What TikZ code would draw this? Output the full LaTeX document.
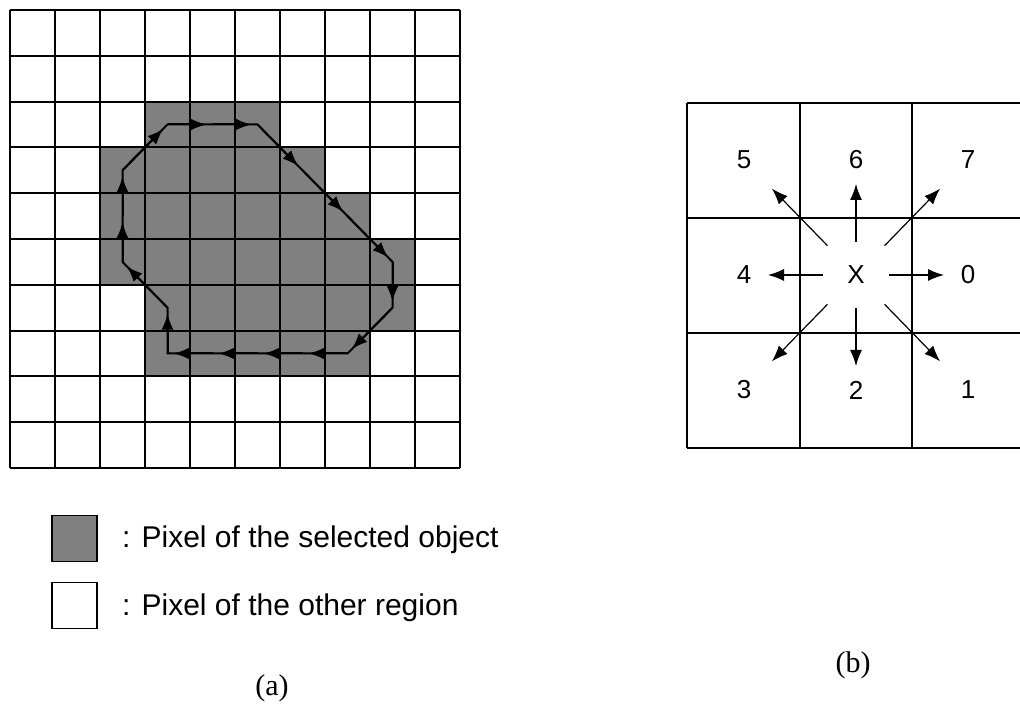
\documentclass[tikz,border=0pt]{standalone}
\usepackage{fontspec}
\setmainfont{Liberation Serif}
\newfontfamily\arialfont{Liberation Sans}
\usetikzlibrary{arrows.meta}
\definecolor{speck}{gray}{0.5}

\begin{document}
\begin{tikzpicture}[x=0.5pt,y=-0.5pt,
  selpix/.style={fill=speck},
  gridline/.style={line width=1pt},
  chain/.style={line width=1pt},
  chainhead/.style={-{Latex[length=8pt,width=6pt]},line width=1pt,shorten >=3pt},
  dirlabel/.style={font=\arialfont\fontsize{13}{15}\selectfont,inner sep=1pt},
  dirarrow/.style={-{Latex[length=8pt,width=6pt]},line width=0.6pt},
  keybox/.style={draw,line width=0.8pt,minimum width=22.5pt,minimum height=23pt,inner sep=0pt},
  keytext/.style={font=\arialfont\fontsize{15}{18}\selectfont,anchor=base west,inner sep=0pt},
  caption/.style={font=\fontsize{15}{18}\selectfont}]
  \useasboundingbox (0,0) rectangle (1020,704);

  % (a) object on the pixel grid and its boundary chain
  \begin{scope}[shift={(10,10)},x=22.5pt,y=-22.9pt]
    \foreach \r/\a/\b in {2/3/5,3/2/6,4/2/7,5/2/8,6/3/8,7/3/7}
      \fill[selpix] (\a,\r) rectangle (\b+1,\r+1);
    \foreach \k in {0,...,10}{
      \draw[gridline] (\k,0) -- (\k,10);
      \draw[gridline] (0,\k) -- (10,\k);
    }
    \foreach \c/\r [count=\i] in {3/2,4/2,5/2,6/3,7/4,8/5,8/6,7/7,6/7,5/7,4/7,3/7,3/6,2/5,2/4,2/3}
      \coordinate (p\i) at (\c+0.5,\r+0.5);
    \draw[chain] (p1) \foreach \i in {2,...,16}{ -- (p\i)} -- cycle;
    \foreach \i [remember=\i as \j (initially 16)] in {1,...,16}
      \draw[chainhead] (p\j) -- (p\i);
  \end{scope}

  \node[keybox,selpix] (keysel) at (74.5,538.5) {};
  \node[keybox] (keyoth) at (74.5,605.5) {};
  \node[keytext] (txtsel) at ([xshift=12pt,yshift=-4.5pt]keysel.east) {: Pixel of the selected object};
  \node[keytext] (txtoth) at ([xshift=12pt,yshift=-5pt]keyoth.east) {: Pixel of the other region};
  \node[caption] (capa) at (272,688) {(a)};

  % (b) the eight chain directions
  \foreach \y in {103,218,333,448}
    \draw[line width=0.75pt] (687,\y) -- (1020,\y);
  \foreach \x in {687,800,912}
    \draw[line width=0.75pt] (\x,103) -- (\x,448);
  \node[dirlabel] (ctr) at (856,275) {X};
  \foreach \d/\x/\y in {0/968/275,1/968/390,2/856/390,3/744/390,4/744/275,5/744/160,6/856/160,7/968/160}
    \node[dirlabel] (d\d) at (\x,\y) {\d};
  \foreach \d in {0,2,4,6}
    \draw[dirarrow,shorten <=16.5pt,shorten >=12pt] (ctr.center) -- (d\d.center);
  \foreach \d in {1,3,5,7}
    \draw[dirarrow,shorten <=20.5pt,shorten >=20pt] (ctr.center) -- (d\d.center);
  \node[caption] (capb) at (853,665) {(b)};
\end{tikzpicture}
\end{document}
